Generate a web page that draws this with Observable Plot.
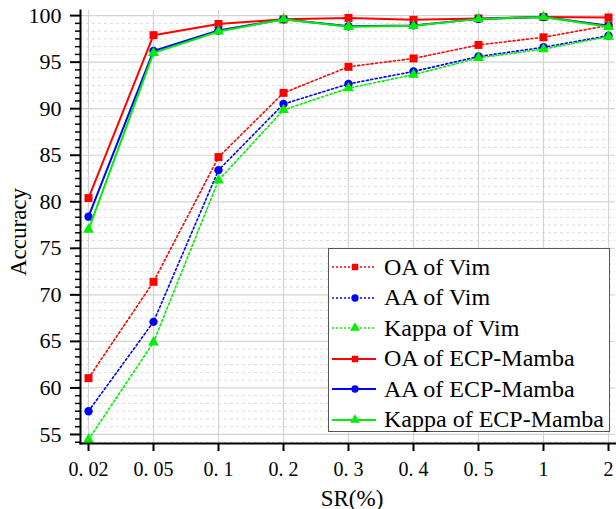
<!DOCTYPE html>
<html>
<head>
<meta charset="utf-8">
<script src="https://cdn.jsdelivr.net/npm/d3@7"></script>
<script src="https://cdn.jsdelivr.net/npm/@observablehq/plot@0.6"></script>
<style>
  html, body { margin: 0; padding: 0; background: #fff; }
  #wrap { position: relative; width: 616px; height: 509px; font-family: "Liberation Serif", "DejaVu Serif", serif; }
  #wrap svg text { font-family: "Liberation Serif", "DejaVu Serif", serif; }
  #legend { position: absolute; left: 328px; top: 248px; width: 282px; height: 184px; border: 1px solid #555; background: #fff; box-sizing: border-box; }
  .row { position: absolute; left: 2px; height: 30px; display: flex; align-items: center; font-size: 24px; color: #000; white-space: nowrap; }
  .row svg { margin-right: 7px; }
</style>
</head>
<body>
<div id="wrap"><div id="legend"></div></div>
<script>
const srLabels = ["0. 02", "0. 05", "0. 1", "0. 2", "0. 3", "0. 4", "0. 5", "1", "2"];
const oaVim     = [61.05, 71.4, 84.8, 91.7, 94.5, 95.4, 96.85, 97.67, 98.95];
const aaVim     = [57.5, 67.1, 83.4, 90.5, 92.66, 94.0, 95.6, 96.6, 97.85];
const kappaVim  = [54.45, 64.9, 82.3, 89.87, 92.2, 93.66, 95.45, 96.4, 97.75];
const oaECP     = [80.4, 97.9, 99.1, 99.6, 99.75, 99.55, 99.7, 99.85, 99.8];
const aaECP     = [78.4, 96.2, 98.4, 99.6, 98.85, 98.95, 99.65, 99.85, 98.9];
const kappaECP  = [77.0, 96.0, 98.3, 99.6, 98.8, 98.9, 99.65, 99.85, 98.8];
const seriesNames = ["OA of Vim", "AA of Vim", "Kappa of Vim", "OA of ECP-Mamba", "AA of ECP-Mamba", "Kappa of ECP-Mamba"];
const yMajor = [55, 60, 65, 70, 75, 80, 85, 90, 95, 100];

const series = [
  {name: seriesNames[0], values: oaVim, color: "#ff0000", dashed: true, symbol: "square"},
  {name: seriesNames[1], values: aaVim, color: "#0000ff", dashed: true, symbol: "circle"},
  {name: seriesNames[2], values: kappaVim, color: "#00ee00", dashed: true, symbol: "triangle"},
  {name: seriesNames[3], values: oaECP, color: "#ff0000", dashed: false, symbol: "square"},
  {name: seriesNames[4], values: aaECP, color: "#0000ff", dashed: false, symbol: "circle"},
  {name: seriesNames[5], values: kappaECP, color: "#00ee00", dashed: false, symbol: "triangle"}
];
const symR = {square: 4.5, circle: 4.2, triangle: 4.0};

const yDomain = [54.03, 100.55];
const yMinor = d3.range(0, 60).map(k => 55 + (k - 1) * 5 / 6)
  .filter(v => v >= yDomain[0] && v <= yDomain[1] && Math.abs(Math.round(v / 5) * 5 - v) > 1e-6);

const marks = [
  Plot.gridY(yMinor, {stroke: "#dcdcdc", strokeOpacity: 1, strokeDasharray: "3,3"}),
  Plot.gridY(yMajor, {stroke: "#d4d4d4", strokeOpacity: 1, strokeWidth: 1.2}),
  Plot.gridX({stroke: "#d4d4d4", strokeOpacity: 1, strokeWidth: 1.2}),
];
for (const s of series) {
  const rows = s.values.map((v, i) => ({sr: srLabels[i], value: v}));
  marks.push(Plot.line(rows, {x: "sr", y: "value", stroke: s.color, strokeWidth: s.dashed ? 1.6 : 2, strokeDasharray: s.dashed ? "2,2.5" : undefined}));
  marks.push(Plot.dot(rows, {x: "sr", y: "value", symbol: s.symbol, r: symR[s.symbol], fill: s.color, stroke: "none"}));
}
marks.push(
  Plot.frame({anchor: "left", strokeWidth: 2, stroke: "#000"}),
  Plot.frame({anchor: "bottom", strokeWidth: 2, stroke: "#000"}),
  Plot.axisY(yMajor, {tickSize: 10, tickPadding: 9, fontSize: 22, strokeWidth: 2, label: null}),
  Plot.axisY(yMinor, {tickSize: 5, strokeWidth: 1.5, text: null, label: null}),
  Plot.axisX({tickSize: 8, tickPadding: 10, fontSize: 20, strokeWidth: 2, label: null, tickFormat: d => d}),
  Plot.text(["Accuracy"], {frameAnchor: "left", textAnchor: "middle", rotate: -90, dx: -62, dy: 5, fontSize: 23, fill: "#000"}),
  Plot.text(["SR(%)"], {frameAnchor: "bottom", textAnchor: "middle", lineAnchor: "bottom", dy: 62, dx: 4, fontSize: 23, fill: "#000"})
);

const chart = Plot.plot({
  width: 616, height: 509,
  marginLeft: 80, marginRight: 1, marginTop: 10, marginBottom: 66,
  style: {fontFamily: "Liberation Serif, DejaVu Serif, serif", color: "#000", background: "transparent"},
  x: {type: "point", domain: srLabels, padding: 0.085},
  y: {domain: yDomain},
  marks
});
const wrap = document.getElementById("wrap");
wrap.insertBefore(chart, wrap.firstChild);

// legend
const legend = document.getElementById("legend");
series.forEach((s, i) => {
  const row = document.createElement("div");
  row.className = "row";
  row.style.top = (3 + i * 30.5) + "px";
  const svg = d3.create("svg").attr("width", 46).attr("height", 14);
  svg.append("line").attr("x1", 1).attr("x2", 45).attr("y1", 7).attr("y2", 7)
    .attr("stroke", s.color).attr("stroke-width", s.dashed ? 1.6 : 2)
    .attr("stroke-dasharray", s.dashed ? "2,2" : null);
  const type = s.symbol === "square" ? d3.symbolSquare : s.symbol === "circle" ? d3.symbolCircle : d3.symbolTriangle;
  svg.append("path").attr("transform", "translate(24,7)")
    .attr("d", d3.symbol(type, 42)()).attr("fill", s.color);
  row.appendChild(svg.node());
  const t = document.createElement("span");
  t.textContent = s.name;
  row.appendChild(t);
  legend.appendChild(row);
});
</script>
</body>
</html>
